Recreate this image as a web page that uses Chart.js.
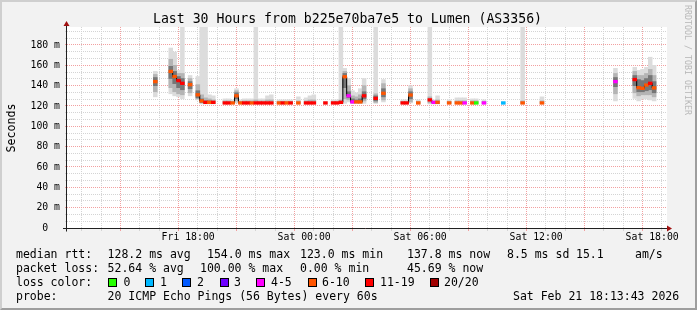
<!DOCTYPE html>
<html><head><meta charset="utf-8">
<script src="https://cdn.jsdelivr.net/npm/chart.js@4.4.1/dist/chart.umd.min.js"></script>
<style>
html,body{margin:0;padding:0;background:#f2f2f2;}
#wrap{position:relative;width:697px;height:310px;overflow:hidden;background:#f2f2f2;font-family:'DejaVu Sans Mono',monospace;color:#000;}
#frame{position:absolute;left:0;top:0;width:697px;height:310px;box-sizing:border-box;border-top:2px solid #cfcfcf;border-left:2px solid #cfcfcf;border-right:2px solid #9e9e9e;border-bottom:2px solid #9e9e9e;}
canvas{position:absolute;left:0;top:0;}
.t{position:absolute;white-space:pre;font-size:11.5px;line-height:14px;}
.box{position:absolute;width:9px;height:9px;box-sizing:border-box;border:1px solid #000;}
#title{position:absolute;left:0;top:11px;width:695px;text-align:center;font-size:13.2px;line-height:16px;white-space:pre;}
#ylab{position:absolute;left:-39.5px;top:120.5px;width:100px;text-align:center;font-size:11.6px;line-height:14px;transform:rotate(-90deg);}
#wm{position:absolute;left:628px;top:53.5px;width:120px;height:12px;line-height:12px;text-align:center;font-size:8.3px;color:#b8b8b8;transform:rotate(90deg);white-space:pre;}
</style></head>
<body>
<div id="wrap">
<div id="frame"></div>
<canvas id="c" width="697" height="310"></canvas>
<div id="title">Last 30 Hours from b225e70ba7e5 to Lumen (AS3356)</div>
<div id="ylab">Seconds</div>
<div id="wm">RRDTOOL / TOBI OETIKER</div>
<div id="legend"></div>
</div>
<script>
// ---- data (hours since Fri 00:00, step centre, 12-minute steps) ----
const hours   = [16.3,17.1,17.3,17.5,17.7,18.1,18.5,18.7,18.9,19.1,19.3,19.9,20.1,20.3,20.5,20.7,20.9,21.1,21.3,21.5,21.7,21.9,22.1,22.3,22.7,22.9,23.1,23.3,23.7,24.1,24.3,24.5,25.1,25.5,25.7,25.9,26.1,26.3,26.5,26.7,26.9,27.1,27.7,28.1,29.1,29.3,29.5,29.9,30.5,30.7,30.9,31.5,31.9,32.1,32.3,32.7,32.9,33.3,34.3,35.3,36.3,40.1,41.1,41.3,41.5,41.7,41.9,42.1];
const median  = [144,154,149,145,142.3,141,131,125,123.6,123.6,123.6,123,123,123,130,123,123,123,123,123,123,123,123,123,123,123,123,123,123,123,123,123,123,123,123,123.6,148.8,130,124,124,124,130,127.5,132.5,123,123,130.8,123,126,123.6,123.6,123,123,123,123,123,123,123,123,123,123,144,146,138,137.4,140.6,142.3,137.8];
const lossIdx = [5,5,5,6,6,5,5,5,6,5,6,6,6,5,5,5,6,6,5,6,6,6,6,6,5,6,5,6,5,6,6,6,6,6,6,6,5,4,4,5,5,6,6,5,6,6,5,5,6,4,5,5,5,5,4,5,0,4,1,5,5,4,6,5,5,5,6,5];
const smokeLo = [129,132,130,129,127,130,126,122,122,122,122,122,122,122,123,122,122,122,122,122,122,122,122,122,122,122,122,122,122,122,122,122,122,122,122,122,122.6,124,122.5,122.5,122.5,122.6,122.5,124,122,122,123,122,122,122,122,122,122,122,122,122,122,122,122,122,122,125,127.5,125,127,127,126,125];
const smokeHi = [154,177,173,155,200,150,149,200,200,131,130,127,127,126,137,126,127,127,127,200,127,127,130,131,126,126,126,126,129,128,130,131,124.5,126,126,200,157,147,135,133,137,147,200,146,126,126,140,126,200,126,130,126,128,128,128,127,127,126,124,200,129,157,158,155,156,158,168,160];
const midLo   = [134,138,134,132,131,133,127,123,122.5,122.5,122.5,122.5,122.5,122.5,125,122.5,122.5,122.5,122.5,122.5,122.5,122.5,122.5,122.5,122.5,122.5,122.5,122.5,122.5,122.5,122.5,122.5,null,122.5,122.5,122.5,127,126,123,123,123,125,123.5,126,122.5,122.5,124,122.5,123,122.5,122.5,122.5,122.5,122.5,122.5,122.5,122.5,122.5,null,122.5,122.5,132,133,130,131,131,131,129];
const midHi   = [151,166,160,152,152,147,141,131,128,127,126,125,125,124.5,135,124.5,125,125,125,126,125,125,126,126,124.5,124.5,124.5,124.5,125,125,126,126,null,124.5,124.5,126,154,140,130,129,131,140,132,142,124.5,124.5,137,124.5,129,124.5,126,124.5,125,125,125,125,125,124.5,null,125,125,152,154,150,150,152,156,150];
const coreLo  = [140,147,142,138,136,137,128,123.5,123,123,null,null,null,null,127,null,null,null,null,null,null,null,null,null,null,null,null,null,null,null,null,null,null,null,null,null,138,128,123.5,123.5,123.5,127,125,129,null,null,127,null,null,null,null,null,null,null,null,null,null,null,null,null,null,139,140,134,134,135,136,133];
const coreHi  = [148,159,154,149,147,144,135,127,125,125,null,null,null,null,133,null,null,null,null,null,null,null,null,null,null,null,null,null,null,null,null,null,null,null,null,null,152,134,127,126,127,134,130,137,null,null,134,null,null,null,null,null,null,null,null,null,null,null,null,null,null,148,150,146,145,147,150,144];

const lossColors = ['#26ff00','#00b8ff','#0059ff','#6e00ff','#ff00ff','#ff5500','#ff0000','#a10000'];
const lossLabels = ['0','1','2','3','4-5','6-10','11-19','20/20'];

const xTickHours  = [18,24,30,36,42];
const xTickLabels = ['Fri 18:00','Sat 00:00','Sat 06:00','Sat 12:00','Sat 18:00'];
const yLabelValues = [0,20,40,60,80,100,120,140,160,180];
const yTickLabels  = ['0  ','20 m','40 m','60 m','80 m','100 m','120 m','140 m','160 m','180 m'];

// ---- legend html ----
const legendRows = [
  [247, [['median rtt:',16],['128.2 ms avg',107.6],['154.0 ms max',207],['123.0 ms min',300],['137.8 ms now',407],['8.5 ms sd',507],['15.1',576],['am/s',635]]],
  [261, [['packet loss:',16],['52.64 % avg',107.6],['100.00 % max',200],['0.00 % min',300],['45.69 % now',407]]],
  [275, [['loss color:',16]]],
  [289, [['probe:',16],['20 ICMP Echo Pings (56 Bytes) every 60s',107.6],['Sat Feb 21 18:13:43 2026',513]]]
];
const boxX = [108,145,182,219.5,256,307.5,365,430];
const boxLabelX = [123.5,160,197,234,271,322,380,444];
const wrap = document.getElementById('wrap');
legendRows.forEach(([top, items]) => items.forEach(([txt,x]) => {
  const d = document.createElement('div'); d.className='t'; d.style.left=x+'px'; d.style.top=top+'px'; d.textContent=txt; wrap.appendChild(d);
}));
lossLabels.forEach((lab,i) => {
  const b = document.createElement('div'); b.className='box'; b.style.left=boxX[i]+'px'; b.style.top='278px'; b.style.background=lossColors[i]; wrap.appendChild(b);
  const d = document.createElement('div'); d.className='t'; d.style.left=boxLabelX[i]+'px'; d.style.top='275px'; d.textContent=lab; wrap.appendChild(d);
});

// ---- chart data ----
const band = (lo, hi) => hours.map((h,i) => (lo[i]==null ? null : {x:h, y:[lo[i], hi[i]]})).filter(Boolean);
const medBars = hours.map((h,i) => ({x:h, y:[median[i]-1.3, median[i]+1.3]}));
const lineData = [];
hours.forEach((h,i) => {
  if (i>0 && h - hours[i-1] > 0.21) lineData.push({x: hours[i-1]+0.2, y: null});
  lineData.push({x:h, y:median[i]});
});

const GRID = 'rgb(212,212,212)';
const MGRID = 'rgb(242,160,160)';
const FONT = 'DejaVu Sans Mono';

const xGrid = []; for (let h=13; h<=42; h++) xGrid.push(h);
const yGrid = []; for (let k=0; k<30; k++) yGrid.push(k*20/3);
const isMajorY = v => Math.abs(v - Math.round(v/20)*20) < 0.01;

const barCommon = {type:'bar', grouped:false, barPercentage:1, categoryPercentage:1, borderWidth:0};

const framePlugin = {
  id:'framePlugin',
  beforeDraw(c){
    const {ctx, chartArea:a} = c;
    ctx.save(); ctx.fillStyle='#ffffff';
    ctx.fillRect(a.left, a.top, a.right-a.left, a.bottom-a.top);
    ctx.restore();
  },
  afterDraw(c){
    const {ctx, chartArea:a} = c;
    ctx.save();
    ctx.strokeStyle='#202020'; ctx.lineWidth=1;
    ctx.beginPath();
    ctx.moveTo(a.left-0.5, a.top-3); ctx.lineTo(a.left-0.5, a.bottom+3.5);
    ctx.moveTo(a.left-4, a.bottom+0.5); ctx.lineTo(a.right+1, a.bottom+0.5);
    ctx.stroke();
    ctx.fillStyle='#a01010';
    ctx.beginPath();
    ctx.moveTo(a.left-0.5, a.top-6); ctx.lineTo(a.left-3.5, a.top-1); ctx.lineTo(a.left+2.5, a.top-1); ctx.closePath(); ctx.fill();
    ctx.beginPath();
    ctx.moveTo(a.right+5, a.bottom+0.5); ctx.lineTo(a.right, a.bottom-2.5); ctx.lineTo(a.right, a.bottom+3.5); ctx.closePath(); ctx.fill();
    ctx.restore();
  }
};

new Chart(document.getElementById('c'), {
  data: {
    datasets: [
      {...barCommon, data: band(smokeLo, smokeHi), backgroundColor:'#dcdcdc', order:10},
      {...barCommon, data: band(midLo, midHi), backgroundColor:'#b4b4b4', order:9},
      {...barCommon, data: band(coreLo, coreHi), backgroundColor:'#767676', order:8},
      {type:'line', data: lineData, borderColor:'#000', borderWidth:1, pointRadius:0, stepped:'middle', spanGaps:false, order:2},
      {...barCommon, data: medBars, backgroundColor: lossIdx.map(i => lossColors[i]), order:1}
    ]
  },
  options: {
    responsive:false, animation:false, devicePixelRatio:1,
    layout:{padding:{top:27, right:30, bottom:0, left:0}},
    plugins:{legend:{display:false}, tooltip:{enabled:false}},
    scales:{
      x:{
        type:'linear', min:12.25, max:42.25,
        afterBuildTicks: s => { s.ticks = xGrid.map(v => ({value:v})); },
        afterFit: s => { s.height = 82; },
        ticks:{autoSkip:false, maxRotation:0, minRotation:0, padding:1, color:'#000', font:{family:FONT, size:9.8},
          callback: v => { const i = xTickHours.indexOf(v); return i>=0 ? xTickLabels[i] : ''; }},
        grid:{color: ctx => (ctx.tick && ctx.tick.value % 3 === 0) ? MGRID : GRID, lineWidth:1, drawTicks:true, tickLength:3},
        border:{display:false, dash:[1,1]}
      },
      y:{
        type:'linear', min:0, max:197.7,
        afterBuildTicks: s => { s.ticks = yGrid.map(v => ({value:v})); },
        afterFit: s => { s.width = 67; },
        ticks:{autoSkip:false, padding:5, color:'#000', font:{family:FONT, size:9.8},
          callback: v => { if (!isMajorY(v)) return ''; const i = yLabelValues.indexOf(Math.round(v)); return i>=0 ? yTickLabels[i] : ''; }},
        grid:{color: ctx => (ctx.tick && isMajorY(ctx.tick.value)) ? MGRID : GRID, lineWidth:1, drawTicks:true, tickLength:2},
        border:{display:false, dash:[1,1]}
      }
    }
  },
  plugins:[framePlugin]
});
</script>
</body></html>
